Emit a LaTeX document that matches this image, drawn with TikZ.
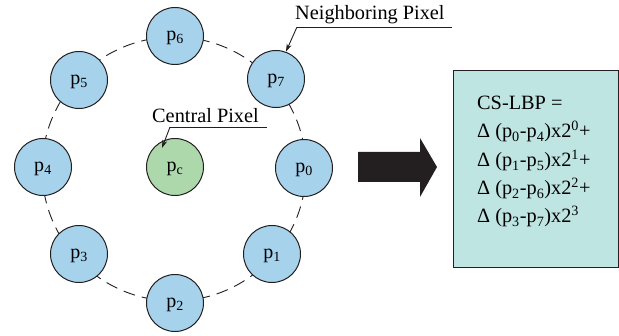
\documentclass[tikz,border=0pt]{standalone}
\usepackage{fontspec}
\setmainfont{Liberation Serif}
\usetikzlibrary{arrows.meta,calc}
\definecolor{ln}{HTML}{231F20}
\definecolor{pixblue}{HTML}{A6D2EC}
\definecolor{pixgreen}{HTML}{ADD8AC}
\definecolor{boxfill}{HTML}{BFE5E3}
\begin{document}
\begin{tikzpicture}[x=1pt,y=-1pt,
  txt/.style={font=\fontsize{20.3}{24}\selectfont},
  pix/.style={circle,draw=ln,line width=1pt,fill=pixblue,minimum size=57pt,inner sep=0pt,
    font=\fontsize{20}{24}\selectfont,text height=9pt,text depth=0pt},
  cpix/.style={pix,fill=pixgreen},
  callout/.style={draw=ln,line width=0.9pt},
  calloutarrow/.style={callout,-{Stealth[length=8pt,width=5pt]}},
  ring/.style={draw=ln,line width=0.9pt,dash pattern=on 12pt off 7pt}]
\useasboundingbox (0,0) rectangle (619,336);
% dashed ring
\coordinate (ringc) at (174,169);
\draw[ring] (ringc) circle[radius=132];
% pixels
\node[pix]  (p6) at (175,36)  {p\textsubscript{6}};
\node[pix]  (p7) at (276,79)  {p\textsubscript{7}};
\node[pix]  (p0) at (304,168) {p\textsubscript{0}};
\node[pix]  (p1) at (272,254) {p\textsubscript{1}};
\node[pix]  (p2) at (175,303) {p\textsubscript{2}};
\node[pix]  (p3) at (79,254)  {p\textsubscript{3}};
\node[pix]  (p4) at (43,167)  {p\textsubscript{4}};
\node[pix]  (p5) at (79,80)   {p\textsubscript{5}};
\node[cpix] (pc) at (175,167) {p\textsubscript{c}};
% callouts
\node[txt,anchor=base west,inner sep=0pt] (nlab) at (295,20) {Neighboring Pixel};
\coordinate (nul1) at (297,27);
\coordinate (nul2) at (452,27);
\draw[callout] (nul1) -- (nul2);
\draw[calloutarrow] (nul1) -- (p7.70);
\node[txt,anchor=base west,inner sep=0pt] (clab) at (152,123) {Central Pixel};
\coordinate (cul1) at (170,127);
\coordinate (cul2) at (267,127);
\coordinate (ctip) at ($(pc.center)+(-13,-19)$);
\draw[callout] (cul1) -- (cul2);
\draw[calloutarrow] (cul1) -- (ctip);
% big arrow
\fill[ln] (358,152) -- (420,152) -- (420,138) -- (437,167) -- (420,197) -- (420,182) -- (358,182) -- cycle;
% formula box
\node[draw=ln,line width=1pt,fill=boxfill,minimum width=165pt,minimum height=197pt,anchor=north west,inner sep=0pt] (box) at (453,70) {};
\node[txt,anchor=base west,inner sep=0pt] (f1) at (477,110) {CS-LBP =};
\node[txt,anchor=base west,inner sep=0pt] (f2) at (477,138) {Δ (p\textsubscript{0}-p\textsubscript{4})x2\textsuperscript{0}+};
\node[txt,anchor=base west,inner sep=0pt] (f3) at (477,167) {Δ (p\textsubscript{1}-p\textsubscript{5})x2\textsuperscript{1}+};
\node[txt,anchor=base west,inner sep=0pt] (f4) at (477,195) {Δ (p\textsubscript{2}-p\textsubscript{6})x2\textsuperscript{2}+};
\node[txt,anchor=base west,inner sep=0pt] (f5) at (477,223) {Δ (p\textsubscript{3}-p\textsubscript{7})x2\textsuperscript{3}};
\end{tikzpicture}
\end{document}
